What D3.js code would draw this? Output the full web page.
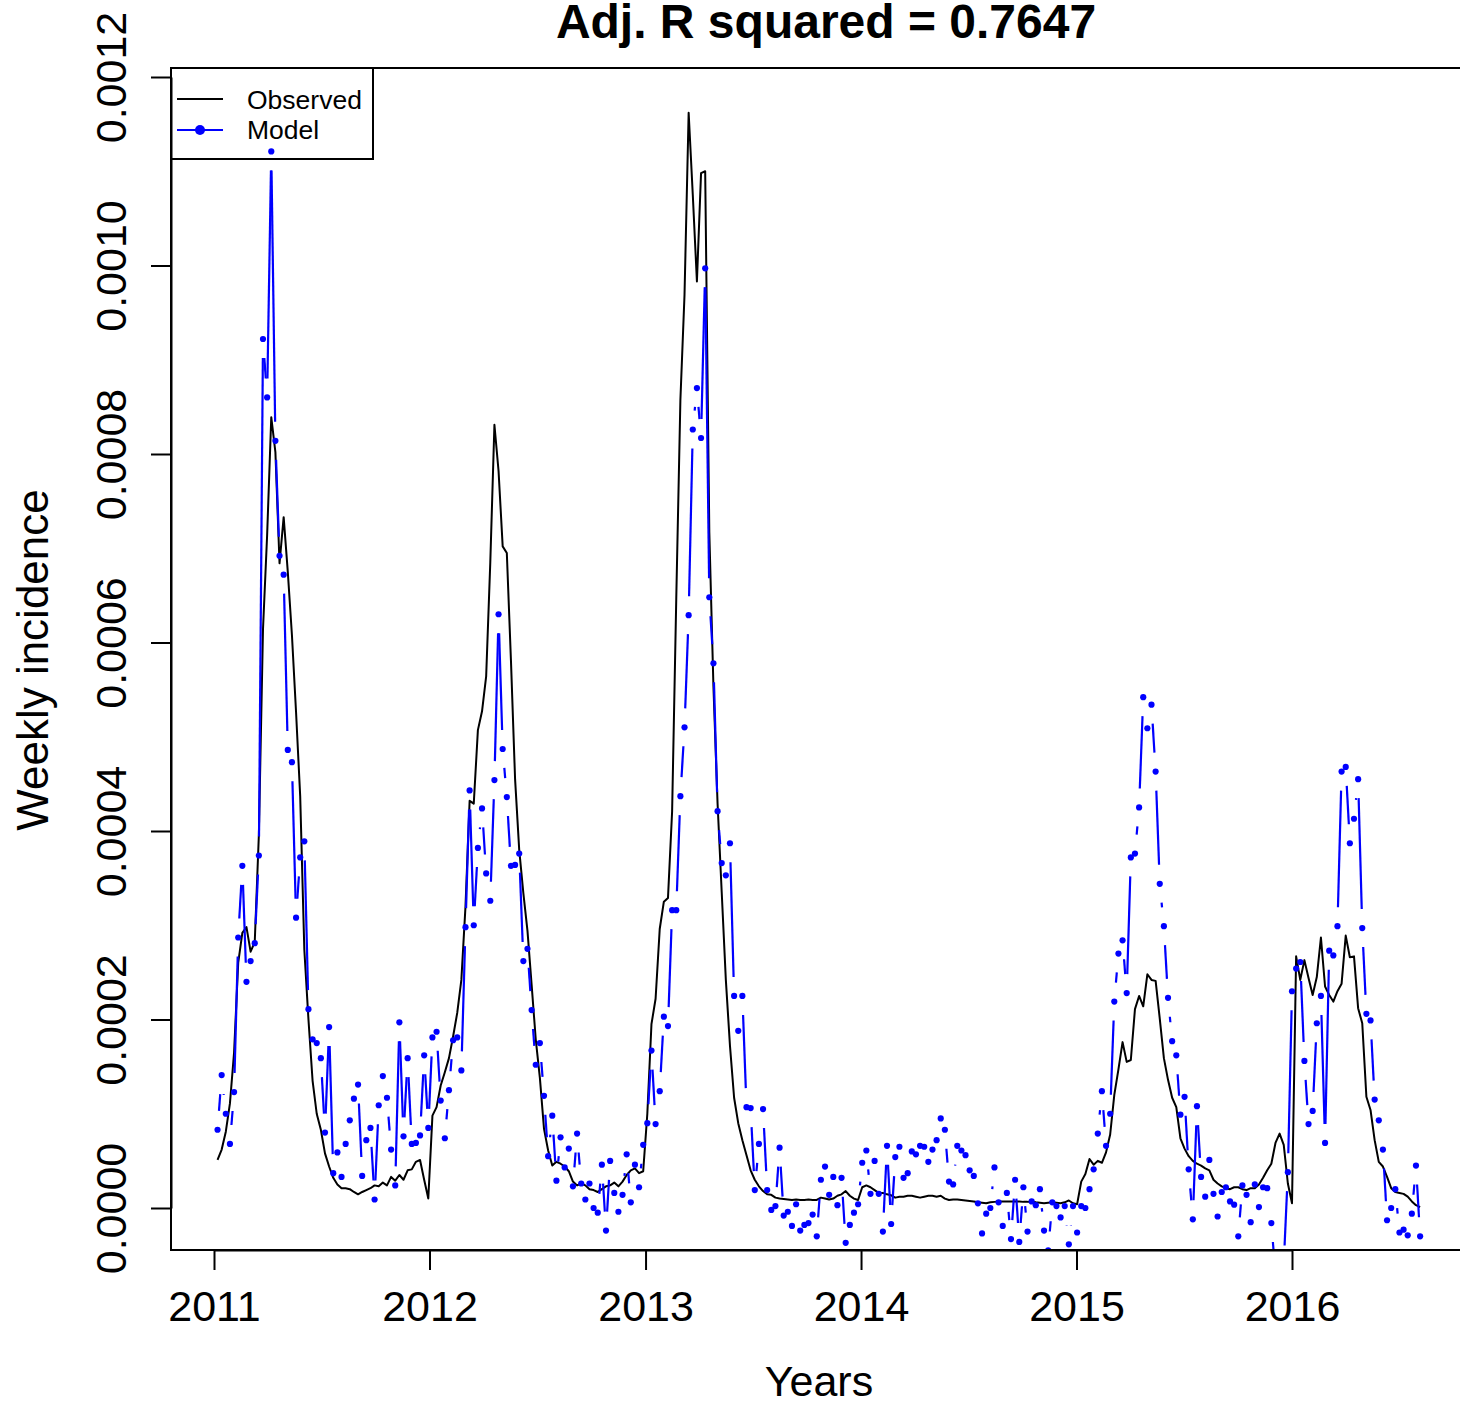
<!DOCTYPE html>
<html><head><meta charset="utf-8">
<script src="https://cdnjs.cloudflare.com/ajax/libs/d3/7.8.5/d3.min.js"></script>
<style>
body{margin:0;background:#fff}
svg{display:block}
text{font-family:"Liberation Sans",Arial,Helvetica,sans-serif;fill:#000}
</style>
</head><body>
<svg id="chart" width="1460" height="1404"></svg>
<script>
// ---- data (weekly values, units of 1e-4) ----
const firstWeek = "2011-01-07";
const unit = 1e-4;
const observed = [
0.51,0.62,0.81,1.11,1.65,2.6,2.92,2.98,2.72,2.82,3.96,6.14,7.14,8.39,8.02,6.84,7.33,6.75,6.08,5.26,
4.37,2.74,2.0,1.35,1.0,0.83,0.58,0.44,0.32,0.25,0.21,0.21,0.20,0.17,0.145,0.17,0.19,0.21,0.24,0.23,
0.27,0.24,0.33,0.29,0.35,0.30,0.40,0.41,0.49,0.51,0.30,0.10,0.98,1.07,1.30,1.44,1.59,1.82,2.07,2.42,
3.2,4.32,4.29,5.07,5.27,5.64,6.85,8.31,7.82,7.02,6.95,5.81,4.55,3.80,3.34,2.94,2.37,1.79,1.38,0.84,
0.61,0.45,0.49,0.47,0.44,0.39,0.28,0.24,0.26,0.24,0.20,0.19,0.17,0.20,0.23,0.24,0.27,0.23,0.28,0.35,
0.40,0.42,0.37,0.39,1.0,1.95,2.22,2.96,3.25,3.29,4.21,6.46,8.57,9.69,11.62,10.75,9.83,10.98,11.0,7.17,
5.53,4.29,3.35,2.42,1.72,1.17,0.90,0.72,0.56,0.40,0.30,0.23,0.18,0.145,0.14,0.11,0.10,0.095,0.09,0.085,
0.09,0.085,0.085,0.09,0.085,0.085,0.11,0.10,0.09,0.10,0.13,0.145,0.18,0.13,0.10,0.085,0.22,0.24,0.22,0.19,
0.16,0.16,0.145,0.135,0.11,0.12,0.12,0.13,0.13,0.12,0.11,0.12,0.13,0.13,0.12,0.13,0.10,0.085,0.09,0.09,
0.085,0.08,0.075,0.07,0.06,0.055,0.05,0.06,0.065,0.07,0.07,0.07,0.07,0.07,0.07,0.065,0.065,0.07,0.06,0.055,
0.05,0.055,0.06,0.055,0.05,0.06,0.08,0.05,0.04,0.28,0.36,0.52,0.46,0.50,0.48,0.59,0.78,1.20,1.47,1.76,
1.55,1.57,2.11,2.25,2.14,2.48,2.42,2.41,2.01,1.59,1.36,1.17,1.07,0.74,0.63,0.55,0.50,0.47,0.45,0.42,
0.40,0.30,0.26,0.23,0.21,0.20,0.22,0.22,0.20,0.19,0.21,0.21,0.25,0.32,0.40,0.47,0.69,0.79,0.67,0.26,
0.05,2.67,2.42,2.63,2.44,2.26,2.45,2.87,2.35,2.26,2.19,2.30,2.38,2.89,2.66,2.67,2.12,1.96,1.18,1.04,
0.72,0.49,0.44,0.33,0.21,0.17,0.16,0.15,0.12,0.07,0.03,0.01
];
const model = [
0.83,1.41,1.00,0.68,1.23,2.87,3.63,2.40,2.62,2.81,3.74,9.22,8.60,11.21,8.14,6.92,6.72,4.86,4.73,3.08,
3.72,3.89,2.11,1.79,1.75,1.59,0.80,1.92,0.37,0.59,0.33,0.68,0.93,1.16,1.31,0.34,0.72,0.85,0.09,1.09,
1.40,1.17,0.62,0.24,1.97,0.76,1.59,0.68,0.69,0.77,1.62,0.85,1.81,1.87,1.14,0.74,1.25,1.78,1.81,1.46,
2.98,4.43,3.00,3.82,4.24,3.55,3.26,4.54,6.30,4.87,4.36,3.63,3.64,3.76,2.62,2.75,2.10,1.52,1.75,1.19,
0.55,0.98,0.29,0.75,0.43,0.63,0.23,0.79,0.26,0.09,0.26,0.00,-0.05,0.46,-0.24,0.50,0.16,-0.04,0.14,0.57,
0.06,0.46,0.22,0.67,0.90,1.67,0.89,1.24,2.03,1.93,3.16,3.16,4.37,5.10,6.29,8.26,8.70,8.17,9.97,6.48,
5.78,4.21,3.66,3.53,3.87,2.25,1.88,2.25,1.07,1.06,0.19,0.68,1.05,0.19,-0.02,0.02,0.64,-0.08,-0.04,-0.19,
0.04,-0.24,-0.18,-0.16,-0.07,-0.30,0.30,0.44,0.14,0.33,0.03,0.32,-0.37,-0.18,-0.05,0.04,0.48,0.61,0.15,0.50,
0.15,-0.25,0.66,-0.17,0.54,0.65,0.32,0.37,0.60,0.57,0.66,0.65,0.49,0.62,0.72,0.95,0.83,0.28,0.25,0.66,
0.61,0.56,0.40,0.34,0.05,-0.27,-0.06,0.00,0.43,0.06,-0.19,0.16,-0.33,0.30,-0.36,0.22,-0.25,0.07,0.03,0.20,
-0.24,-0.45,0.06,0.02,-0.10,0.02,-0.385,0.02,-0.26,0.02,0.00,0.20,0.41,0.79,1.24,0.66,1.00,2.19,2.70,2.84,
2.28,3.72,3.76,4.25,5.42,5.09,5.34,4.63,3.44,2.99,2.23,1.77,1.62,0.99,1.18,0.41,-0.12,1.08,0.33,0.12,
0.51,0.15,-0.09,0.17,0.22,0.07,0.035,-0.30,0.24,0.14,-0.15,0.25,0.01,0.22,0.21,-0.16,-0.7,-0.9,-0.6,0.38,
2.30,2.54,2.61,1.56,0.89,1.03,1.96,2.25,0.69,2.73,2.68,2.99,4.63,4.68,3.87,4.13,4.55,2.97,2.06,1.99,
1.15,0.93,0.62,-0.13,0.00,0.20,-0.26,-0.23,-0.29,-0.06,0.45,-0.30
];
const yearTicks = [2011, 2012, 2013, 2014, 2015, 2016];
const yTickValues = [0, 0.0002, 0.0004, 0.0006, 0.0008, 0.0010, 0.0012];
const yTickLabels = ["0.0000","0.0002","0.0004","0.0006","0.0008","0.0010","0.0012"];
const titleText = "Adj. R squared = 0.7647";
const xLabel = "Years";
const yLabel = "Weekly incidence";
const legendLabels = ["Observed", "Model"];

// ---- layout ----
const box = {left:171, right:1481, top:68, bottom:1250};
const svg = d3.select("#chart");
const parse = d3.timeParse("%Y-%m-%d");
const start = parse(firstWeek);
const dates = observed.map((_, i) => d3.timeDay.offset(start, 7 * i));

const x = d3.scaleTime()
  .domain([new Date(2011,0,1), new Date(2016,0,1)])
  .range([214, 1292]);
const y = d3.scaleLinear().domain([0, 0.0012]).range([1208, 77]);

svg.append("defs").append("clipPath").attr("id","plotclip")
  .append("rect").attr("x",box.left).attr("y",box.top)
  .attr("width",box.right-box.left).attr("height",box.bottom-box.top);

const plot = svg.append("g").attr("clip-path","url(#plotclip)");

// observed line
const line = d3.line().x((d,i)=>x(dates[i])).y(d=>y(d*unit));
plot.append("path").datum(observed)
  .attr("d", line).attr("fill","none").attr("stroke","#000")
  .attr("stroke-width",2).attr("stroke-linejoin","round");

// model: points + gapped segments (type "b")
const pts = model.map((v,i)=>[x(dates[i]), y(v*unit)]);
const gap = 19;
const segs = [];
for (let i=0;i<pts.length-1;i++){
  const [x0,y0]=pts[i], [x1,y1]=pts[i+1];
  const dx=x1-x0, dy=y1-y0, d=Math.hypot(dx,dy);
  if (d > 2*gap){ const f=gap/d; segs.push([x0+f*dx,y0+f*dy,x1-f*dx,y1-f*dy]); }
}
plot.selectAll("line.seg").data(segs).join("line").attr("class","seg")
  .attr("x1",d=>d[0]).attr("y1",d=>d[1]).attr("x2",d=>d[2]).attr("y2",d=>d[3])
  .attr("stroke","#0000ff").attr("stroke-width",2.2);
plot.selectAll("circle.pt").data(model).join("circle").attr("class","pt")
  .attr("cx",(d,i)=>x(dates[i])).attr("cy",d=>y(d*unit)).attr("r",3.1)
  .attr("fill","#0000ff");

// box
svg.append("rect").attr("x",box.left).attr("y",box.top)
  .attr("width",box.right-box.left).attr("height",box.bottom-box.top)
  .attr("fill","none").attr("stroke","#000").attr("stroke-width",2);

// x axis
const xAxis = d3.axisBottom(x)
  .tickValues(yearTicks.map(yr=>new Date(yr,0,1)))
  .tickFormat(d3.timeFormat("%Y")).tickSizeInner(20).tickSizeOuter(0).tickPadding(20);
const gx = svg.append("g").attr("transform",`translate(0,${box.bottom})`).call(xAxis);
gx.selectAll("path,line").attr("stroke","#000").attr("stroke-width",2);
gx.selectAll("text").attr("font-size",43).attr("font-family","Liberation Sans, Arial, sans-serif");

// y axis
const yAxis = d3.axisLeft(y).tickValues(yTickValues)
  .tickFormat((d,i)=>yTickLabels[i]).tickSizeInner(20).tickSizeOuter(0);
const gy = svg.append("g").attr("transform",`translate(${box.left},0)`).call(yAxis);
gy.selectAll("path,line").attr("stroke","#000").attr("stroke-width",2);
gy.selectAll("text").attr("font-size",43).attr("font-family","Liberation Sans, Arial, sans-serif")
  .attr("x",null).attr("dy",null).attr("text-anchor","middle")
  .attr("transform","translate(-45,0) rotate(-90)");

// titles
svg.append("text").attr("x",(box.left+box.right)/2).attr("y",38)
  .attr("text-anchor","middle").attr("font-size",48).attr("font-weight","bold").text(titleText);
svg.append("text").attr("x",819).attr("y",1396)
  .attr("text-anchor","middle").attr("font-size",43).text(xLabel);
svg.append("text").attr("transform",`translate(48,660) rotate(-90)`)
  .attr("text-anchor","middle").attr("font-size",44).text(yLabel);

// legend
const lg = svg.append("g");
lg.append("rect").attr("x",171).attr("y",68).attr("width",202).attr("height",91)
  .attr("fill","none").attr("stroke","#000").attr("stroke-width",2);
lg.append("line").attr("x1",177).attr("x2",223).attr("y1",99).attr("y2",99)
  .attr("stroke","#000").attr("stroke-width",2);
lg.append("line").attr("x1",177).attr("x2",223).attr("y1",130).attr("y2",130)
  .attr("stroke","#0000ff").attr("stroke-width",2);
lg.append("circle").attr("cx",200).attr("cy",130).attr("r",5).attr("fill","#0000ff");
lg.selectAll("text.lab").data(legendLabels).join("text").attr("class","lab")
  .attr("x",247).attr("y",(d,i)=>109+i*30).attr("font-size",26.5).text(d=>d);
</script>
</body></html>
